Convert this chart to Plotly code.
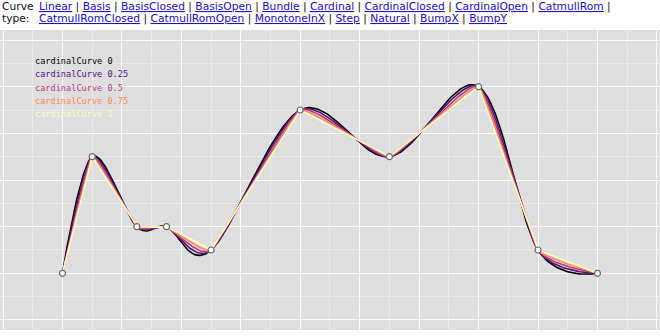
import numpy as np
import plotly.graph_objects as go

# ---- data ----
xs = [0, 1, 2.5, 3.5, 5, 8, 11, 14, 16, 18]
ys = [0, 5, 2, 2, 1, 7, 5, 8, 1, 0]
tensions = [0, 0.25, 0.5, 0.75, 1]
colors = ["#000004", "#51127c", "#b73779", "#fc8961", "#fcfdbf"]
curve_types_line1 = ["Linear", "Basis", "BasisClosed", "BasisOpen", "Bundle",
                     "Cardinal", "CardinalClosed", "CardinalOpen", "CatmullRom"]
curve_types_line2 = ["CatmullRomClosed", "CatmullRomOpen", "MonotoneInX", "Step",
                     "Natural", "BumpX", "BumpY"]


def cardinal(px, py, tension, steps=40):
    k = (1 - tension) / 6.0
    P = np.column_stack([px, py]).astype(float)
    n = len(P)
    out = [P[0]]
    t = np.linspace(0, 1, steps)[1:, None]
    for i in range(n - 1):
        p1, p2 = P[i], P[i + 1]
        c1 = p1 if i == 0 else p1 + k * (p2 - P[i - 1])
        c2 = p2 if i == n - 2 else p2 - k * (P[i + 2] - p1)
        seg = ((1 - t) ** 3) * p1 + 3 * ((1 - t) ** 2) * t * c1 + 3 * (1 - t) * t ** 2 * c2 + t ** 3 * p2
        out.extend(seg)
    out = np.array(out)
    return out[:, 0], out[:, 1]


fig = go.Figure()
for ten, col in zip(tensions, colors):
    cx, cy = cardinal(xs, ys, ten)
    fig.add_trace(go.Scatter(x=cx, y=cy, mode="lines", line=dict(color=col, width=1.6),
                             hoverinfo="skip", showlegend=False))

fig.add_trace(go.Scatter(x=xs, y=ys, mode="markers",
                         marker=dict(symbol="circle", size=6, color="white",
                                     line=dict(color="#666666", width=1.2)),
                         showlegend=False))

# legend-like labels
leg_y = [61, 74.3, 87.5, 100.8, 114]
for ten, col, py in zip(tensions, colors, leg_y):
    fig.add_annotation(xref="paper", yref="paper", x=33 / 660, y=(330 - py) / 300,
                       xanchor="left", yanchor="middle", showarrow=False,
                       text=f"cardinalCurve {ten:g}",
                       font=dict(family="DejaVu Sans Mono", size=8.6, color=col))

# header
link = "<span style='color:#1a0dcc'><u>{}</u></span>"
sep = " | "
line1 = sep.join(link.format(c) for c in curve_types_line1) + " |"
line2 = sep.join(link.format(c) for c in curve_types_line2)
hdr_font = dict(family="DejaVu Sans", size=10.7, color="#111111")
fig.add_annotation(xref="paper", yref="paper", x=0, y=(330 - 6.5) / 300, xanchor="left",
                   yanchor="middle", showarrow=False, text="Curve", font=hdr_font)
fig.add_annotation(xref="paper", yref="paper", x=0, y=(330 - 18.5) / 300, xanchor="left",
                   yanchor="middle", showarrow=False, text="type:", font=hdr_font)
fig.add_annotation(xref="paper", yref="paper", x=37 / 660, y=(330 - 6.5) / 300, xanchor="left",
                   yanchor="middle", showarrow=False, text=line1, font=hdr_font)
fig.add_annotation(xref="paper", yref="paper", x=37 / 660, y=(330 - 18.5) / 300, xanchor="left",
                   yanchor="middle", showarrow=False, text=line2, font=hdr_font)

axis_common = dict(showticklabels=False, zeroline=False, showline=False, ticks="",
                   gridcolor="rgba(255,255,255,0.9)", gridwidth=1.3, tick0=0, dtick=2,
                   minor=dict(dtick=1, tick0=0, showgrid=True,
                              gridcolor="rgba(255,255,255,0.35)", gridwidth=1))
fig.update_xaxes(range=[-62.5 / 29.72, (660 - 62.5) / 29.72], **axis_common)
fig.update_yaxes(range=[-2.43, 10.43], **axis_common)

fig.update_layout(width=660, height=336, margin=dict(l=0, r=0, t=30, b=6),
                  plot_bgcolor="#dedede", paper_bgcolor="white")

fig.write_html("out.html")
